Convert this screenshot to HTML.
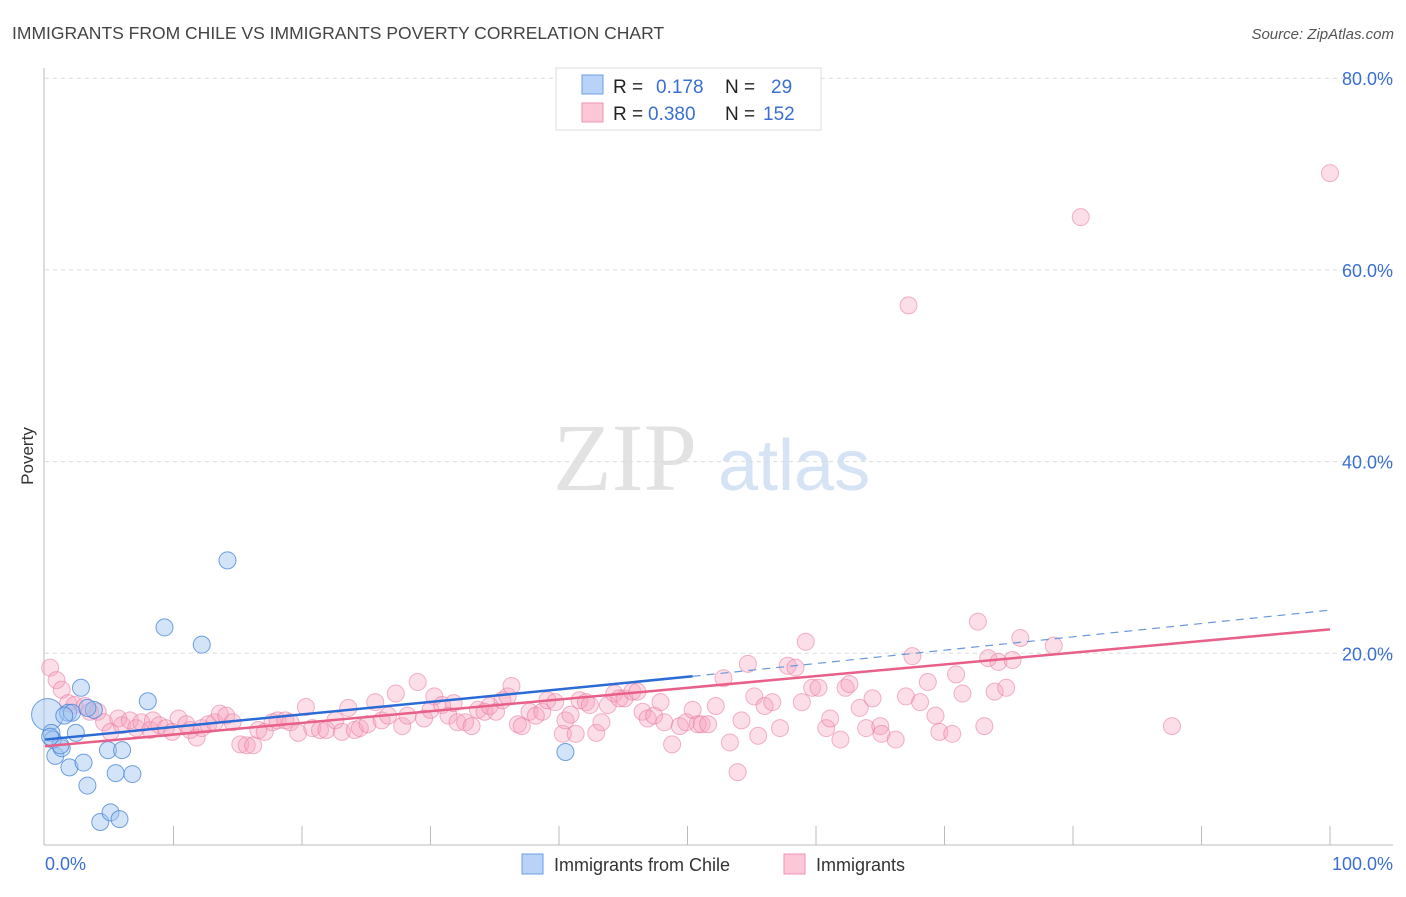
<!DOCTYPE html>
<html><head><meta charset="utf-8"><style>
body{margin:0;background:#fff;font-family:"Liberation Sans",sans-serif;}
svg text{font-family:"Liberation Sans",sans-serif;}
</style></head><body>
<svg id="chart" width="1406" height="892" viewBox="0 0 1406 892" xmlns="http://www.w3.org/2000/svg">
<text x="12" y="39" font-size="17.5" fill="#444">IMMIGRANTS FROM CHILE VS IMMIGRANTS POVERTY CORRELATION CHART</text>
<text x="1394" y="39" font-size="15" fill="#555" font-style="italic" text-anchor="end">Source: ZipAtlas.com</text>
<g>
<text x="553" y="490" font-size="96" font-family="Liberation Serif,serif" fill="#e2e2e2" style="font-family:'Liberation Serif',serif">ZIP</text>
<text x="718" y="490" font-size="72" fill="#d6e3f5">atlas</text>
</g>
<g id="grid"></g>
<g id="axes"></g>
<g id="pts"></g>
<g id="trends"></g>
<text transform="translate(33,456) rotate(-90)" font-size="17" fill="#333" text-anchor="middle">Poverty</text>
<g>
<rect x="556" y="68" width="265" height="62" fill="#fff" stroke="#ddd"/>
<rect x="582" y="75" width="21" height="19" fill="#b8d3f7" stroke="#6e9ee6"/>
<rect x="582" y="103" width="21" height="19" fill="#fcc8d8" stroke="#ef93b0"/>
<text x="613" y="93" font-size="19" fill="#222">R = </text><text x="656" y="93" font-size="19" fill="#3a6fd2">0.178</text>
<text x="725" y="93" font-size="19" fill="#222">N = </text><text x="771" y="93" font-size="19" fill="#3a6fd2">29</text>
<text x="613" y="120" font-size="19" fill="#222">R = </text><text x="648" y="120" font-size="19" fill="#3a6fd2">0.380</text>
<text x="725" y="120" font-size="19" fill="#222">N = </text><text x="763" y="120" font-size="19" fill="#3a6fd2">152</text>
</g>
<g>
<rect x="522" y="854" width="21" height="20" fill="#b8d3f7" stroke="#6e9ee6"/>
<text x="554" y="871" font-size="18" fill="#333">Immigrants from Chile</text>
<rect x="784" y="854" width="21" height="20" fill="#fcc8d8" stroke="#ef93b0"/>
<text x="816" y="871" font-size="18" fill="#333">Immigrants</text>
</g>
</svg>
<script>
const yTicks=[20,40,60,80];
const yTickLabels=["20.0%","40.0%","60.0%","80.0%"];
const xTickLabels=["0.0%","100.0%"];
const blueX=[0.2,0.5,0.8,1.3,1.8,2.1,2.8,2.4,1.9,3.0,3.3,3.8,4.3,4.9,5.1,5.5,5.8,6.0,6.8,8.0,9.3,12.2,14.2,40.5,0.6,1.2,3.3,1.5,0.4];
const blueY=[13.6,11.7,9.3,10.1,13.8,13.8,16.4,11.7,8.1,8.6,6.2,14.1,2.4,9.9,3.4,7.5,2.7,9.9,7.4,15.0,22.7,20.9,29.7,9.7,11.0,10.4,14.3,13.5,11.3];
const pinkX=[0.4,0.9,1.3,1.8,2.3,3.1,3.5,4.1,4.6,5.1,5.7,6.0,6.6,7.1,7.5,8.2,8.4,8.9,9.4,9.9,10.4,11.0,11.3,11.8,12.2,12.7,13.2,13.6,14.1,14.6,15.2,15.7,16.2,16.6,17.1,17.7,18.1,18.7,19.1,19.7,20.3,20.8,21.4,21.9,22.6,23.1,23.6,24.1,24.5,25.1,25.7,26.2,26.7,27.3,27.8,28.2,29.0,29.5,30.0,30.3,30.9,31.4,31.8,32.1,32.7,33.2,33.7,34.2,34.6,35.1,35.6,36.0,36.3,36.8,37.1,37.7,38.2,38.7,39.1,39.7,40.3,40.5,40.9,41.3,41.6,42.1,42.4,42.9,43.3,43.8,44.3,44.7,45.1,45.7,46.1,46.5,46.9,47.4,47.9,48.2,48.8,49.4,49.9,50.4,50.8,51.1,51.6,52.2,52.8,53.3,53.9,54.2,54.7,55.2,55.5,56.0,56.6,57.2,57.8,58.4,58.9,59.2,59.7,60.2,60.8,61.1,61.9,62.3,62.6,63.4,63.9,64.4,65.0,65.1,66.2,67.0,67.5,68.1,68.7,69.3,69.6,70.6,70.9,71.4,72.6,73.1,73.4,73.9,74.2,74.8,75.3,75.9,78.5,87.7,67.2,80.6,100];
const pinkY=[18.5,17.2,16.2,14.8,14.6,14.5,13.9,13.9,12.8,11.8,13.2,12.5,13.0,12.2,12.8,12.0,13.0,12.5,12.2,11.8,13.2,12.6,12.0,11.2,12.2,12.6,12.8,13.7,13.5,12.8,10.5,10.4,10.4,12.0,11.8,12.8,13.0,13.0,12.8,11.7,14.4,12.2,12.0,12.0,13.0,11.8,14.3,12.0,12.2,12.6,14.9,13.0,13.5,15.8,12.4,13.5,17.0,13.2,14.1,15.5,14.6,13.5,14.8,12.8,12.8,12.4,14.1,13.9,14.5,13.9,15.1,15.5,16.6,12.6,12.4,13.9,13.5,13.9,15.1,14.9,11.6,13.0,13.6,11.6,15.1,14.9,14.6,11.7,12.8,14.6,15.8,15.3,15.3,16.0,16.0,13.9,13.2,13.5,14.9,12.8,10.5,12.4,12.8,14.1,12.6,12.6,12.6,14.5,17.4,10.7,7.6,13.0,18.9,15.5,11.4,14.5,14.9,12.2,18.7,18.5,14.9,21.2,16.4,16.4,12.2,13.2,11.0,16.4,16.8,14.3,12.2,15.3,12.4,11.6,11.0,15.5,19.7,14.9,17.0,13.5,11.8,11.6,17.8,15.8,23.3,12.4,19.5,16.0,19.1,16.4,19.3,21.6,20.8,12.4,56.3,65.5,70.1];
const blueTrend=[0,11.0,50.4,17.6,100,24.5];
const pinkTrend=[0,10.3,100,22.5];
const X0=45,X1=1330,Y0=845,YPER=9.585;
const xs=v=>X0+(X1-X0)*v/100;
const ys=v=>Y0-v*YPER;
const NS="http://www.w3.org/2000/svg";
function mk(tag,attrs,parent){const e=document.createElementNS(NS,tag);for(const k in attrs)e.setAttribute(k,attrs[k]);parent.appendChild(e);return e;}
const grid=document.getElementById('grid'),axes=document.getElementById('axes');
yTicks.forEach((t,i)=>{
 const l=mk('line',{x1:45,x2:1393,y1:ys(t),y2:ys(t),stroke:'#dcdcdc','stroke-dasharray':'4,4'},grid);
 
 
 const tx=mk('text',{x:1393,y:ys(t)+7,'font-size':18,fill:'#3a6fd2','text-anchor':'end'},axes);
 tx.textContent=yTickLabels[i];
 
 
});
const ya=mk('line',{x1:44,x2:44,y1:68,y2:845,stroke:'#bbb'},axes);


const xa=mk('line',{x1:44,x2:1393,y1:845,y2:845,stroke:'#bbb'},axes);


for(let k=1;k<=10;k++){const t=mk('line',{x1:xs(k*10),x2:xs(k*10),y1:826,y2:845,stroke:'#bbb'},axes);
 
 }
const xl0=mk('text',{x:45,y:870,'font-size':18,fill:'#3a6fd2'},axes);xl0.textContent=xTickLabels[0];


const xl1=mk('text',{x:1393,y:870,'font-size':18,fill:'#3a6fd2','text-anchor':'end'},axes);xl1.textContent=xTickLabels[1];


const pts=document.getElementById('pts');
pinkX.forEach((x,i)=>{const c=mk('circle',{cx:xs(x),cy:ys(pinkY[i]),r:8.5,fill:'rgba(246,160,188,0.35)',stroke:'rgba(232,120,158,0.55)','stroke-width':1},pts);
 
 });
blueX.forEach((x,i)=>{const c=mk('circle',{cx:xs(x),cy:ys(blueY[i]),r:i===0?16:8.5,fill:'rgba(160,196,240,0.45)',stroke:'rgba(70,130,215,0.75)','stroke-width':1},pts);
 
 });
const tr=document.getElementById('trends');
const pl=mk('line',{x1:xs(pinkTrend[0]),y1:ys(pinkTrend[1]),x2:xs(pinkTrend[2]),y2:ys(pinkTrend[3]),stroke:'#e8608a','stroke-width':2.5},tr);


const bl=mk('line',{x1:xs(blueTrend[0]),y1:ys(blueTrend[1]),x2:xs(blueTrend[2]),y2:ys(blueTrend[3]),stroke:'#2a6bd6','stroke-width':2.5},tr);


const bd=mk('line',{x1:xs(blueTrend[2]),y1:ys(blueTrend[3]),x2:xs(blueTrend[4]),y2:ys(blueTrend[5]),stroke:'#6a98d8','stroke-width':1.2,'stroke-dasharray':'8,6'},tr);


</script>
</body></html>
